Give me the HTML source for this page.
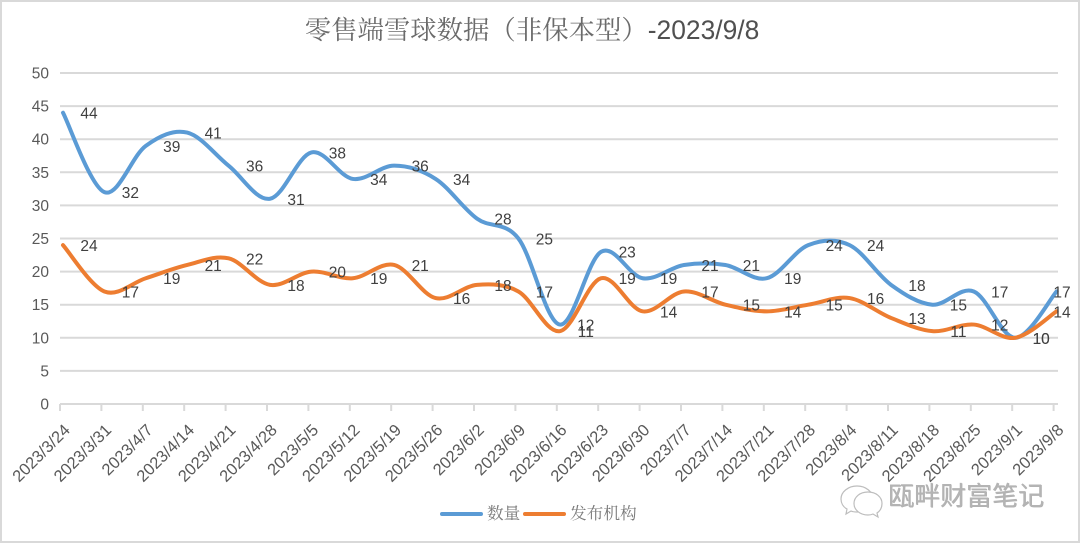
<!DOCTYPE html>
<html><head><meta charset="utf-8"><title>零售端雪球数据</title>
<style>
html,body{margin:0;padding:0;background:#fff}
svg{display:block}
text{font-family:"Liberation Sans","Noto Sans CJK SC",sans-serif}
</style></head>
<body>
<svg id="chart" width="1080" height="543" viewBox="0 0 1080 543" xmlns="http://www.w3.org/2000/svg">
<rect x="1" y="1" width="1078" height="541" fill="#fff" stroke="#d9d9d9" stroke-width="2"/>
<text x="532" y="39" text-anchor="middle" font-size="26.4" fill="#6b6b6b" style="font-family:'Noto Serif CJK SC','Liberation Sans',serif"><tspan>零售端雪球数据（非保本型）</tspan><tspan style="font-family:'Liberation Sans',sans-serif" fill="#505050">-2023/9/8</tspan></text>
<g id="grid"></g>
<g id="xaxis"></g>
<g id="yaxis"></g>
<g id="series"></g>
<g id="labels"></g>
<g>
<line x1="442" y1="514" x2="481" y2="514" stroke="#5b9bd5" stroke-width="4" stroke-linecap="round"/>
<text x="487" y="519" font-size="16.7" fill="#7a7a7a" style="font-family:'Noto Serif CJK SC',serif">数量</text>
<line x1="525" y1="514" x2="564" y2="514" stroke="#ed7d31" stroke-width="4" stroke-linecap="round"/>
<text x="570" y="519" font-size="16.7" fill="#7a7a7a" style="font-family:'Noto Serif CJK SC',serif">发布机构</text>
</g>
<g>
<g fill="#fff" stroke="#bdbdbd" stroke-width="1.2">
<path d="M857 486c-9 0-16 6-16 13 0 4 2 8 6 10l-1 5 5-3c2 1 4 1 6 1 9 0 16-6 16-13s-7-13-16-13z"/>
<path d="M868 492c-8 0-14 5-14 11.500s6 11.500 14 11.500c2 0 3 0 5-1l5 3-1-4c3-2 5-5 5-9.500 0-6.500-6-11.500-14-11.500z"/>
</g>
<text x="888" y="505" font-size="26" fill="#b4b4b4" style="font-family:'WenQuanYi Zen Hei','Noto Sans CJK SC',sans-serif;text-shadow:0.6px 0.6px 0 #b0b0b0">瓯畔财富笔记</text>
</g>
</svg>
<script>
const categories = ["2023/3/24","2023/3/31","2023/4/7","2023/4/14","2023/4/21","2023/4/28","2023/5/5","2023/5/12","2023/5/19","2023/5/26","2023/6/2","2023/6/9","2023/6/16","2023/6/23","2023/6/30","2023/7/7","2023/7/14","2023/7/21","2023/7/28","2023/8/4","2023/8/11","2023/8/18","2023/8/25","2023/9/1","2023/9/8"];
const quantityValues = [44,32,39,41,36,31,38,34,36,34,28,25,12,23,19,21,21,19,24,24,18,15,17,10,17];
const publisherValues = [24,17,19,21,22,18,20,19,21,16,18,17,11,19,14,17,15,14,15,16,13,11,12,10,14];
const yTicks = [0,5,10,15,20,25,30,35,40,45,50];

const NS = 'http://www.w3.org/2000/svg';
const xStep = 41.4;
const yScale = v => 404 - v * 6.62;
const tickX = i => 60 + i * xStep;
const pointX = i => 63 + i * xStep;
const labelX = i => Math.min(pointX(i) + 26, 1062);

function mk(parent, tag, attrs, txt) {
  const el = document.createElementNS(NS, tag);
  for (const k in attrs) el.setAttribute(k, attrs[k]);
  if (txt !== undefined) el.textContent = txt;
  parent.appendChild(el);
  return el;
}

const grid = document.getElementById('grid');
const yaxis = document.getElementById('yaxis');
yTicks.forEach(t => {
  const line = mk(grid, 'line', {x1: 60, x2: 1058, y1: yScale(t), y2: yScale(t), stroke: '#d9d9d9', 'stroke-width': 2});
  
  
  const lab = mk(yaxis, 'text', {x: 49, y: yScale(t) + 5.5, 'text-anchor': 'end', 'font-size': 15.5, fill: '#595959'}, t);
  
  
});

const xaxis = document.getElementById('xaxis');
categories.forEach((c, i) => {
  const tick = mk(xaxis, 'line', {x1: tickX(i), x2: tickX(i), y1: 404, y2: 411, stroke: '#d9d9d9', 'stroke-width': 2});
  
  
  const ax = tickX(i) + 11, ay = 431;
  const lab = mk(xaxis, 'text', {x: ax, y: ay, 'text-anchor': 'end', 'font-size': 16.5, fill: '#595959', transform: `rotate(-45 ${ax} ${ay})`}, c);
  
  
});

function smoothPath(vals) {
  const p = vals.map((v, i) => [pointX(i), yScale(v)]);
  let d = `M${p[0][0]} ${p[0][1]}`;
  for (let i = 0; i < p.length - 1; i++) {
    const p0 = p[i - 1] || p[i], p1 = p[i], p2 = p[i + 1], p3 = p[i + 2] || p2;
    const c1 = [p1[0] + (p2[0] - p0[0]) / 6, p1[1] + (p2[1] - p0[1]) / 6];
    const c2 = [p2[0] - (p3[0] - p1[0]) / 6, p2[1] - (p3[1] - p1[1]) / 6];
    d += `C${c1[0]} ${c1[1]} ${c2[0]} ${c2[1]} ${p2[0]} ${p2[1]}`;
  }
  return d;
}

const seriesG = document.getElementById('series');
const quantityLine = mk(seriesG, 'path', {d: smoothPath(quantityValues), fill: 'none', stroke: '#5b9bd5', 'stroke-width': 4, 'stroke-linecap': 'round'});


const publisherLine = mk(seriesG, 'path', {d: smoothPath(publisherValues), fill: 'none', stroke: '#ed7d31', 'stroke-width': 4, 'stroke-linecap': 'round'});



const labelsG = document.getElementById('labels');
quantityValues.forEach((v, i) => {
  const t = mk(labelsG, 'text', {x: labelX(i), y: yScale(v) + 6, 'text-anchor': 'middle', 'font-size': 15.5, fill: '#404040'}, v);
  
  
});
publisherValues.forEach((v, i) => {
  const t = mk(labelsG, 'text', {x: labelX(i), y: yScale(v) + 6, 'text-anchor': 'middle', 'font-size': 15.5, fill: '#404040'}, v);
  
  
});
</script>
</body></html>
